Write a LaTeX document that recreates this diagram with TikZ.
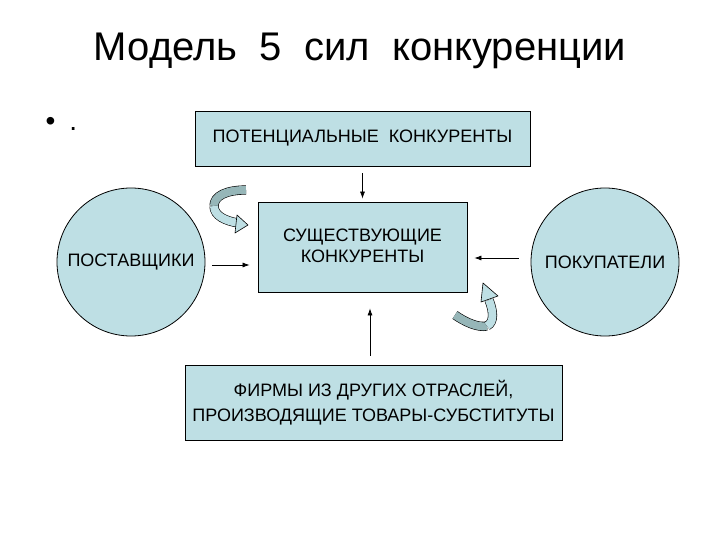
\documentclass[tikz,border=0pt]{standalone}
\usepackage{fontspec}
\setmainfont{Liberation Sans}
\usetikzlibrary{arrows.meta}
\definecolor{paleblue}{RGB}{190,223,228}
\definecolor{darkteal}{RGB}{150,182,184}

\begin{document}
\begin{tikzpicture}[x=1pt, y=-1pt,
    box/.style={draw, fill=paleblue, line width=0.8pt, inner sep=0pt, align=center, font=\fontsize{18}{25}\selectfont},
    firm/.style={draw, circle, fill=paleblue, line width=0.8pt, minimum size=148pt, inner sep=0pt, font=\fontsize{18}{25}\selectfont},
    arr/.style={-{Latex[length=7pt,width=5pt]}, line width=0.7pt},
    band/.style={draw=black, line width=0.6pt, double distance=8pt},
    head/.style={draw=black, line width=0.6pt, fill=paleblue, line join=round}
]
\useasboundingbox (0,0) rectangle (720,540);
\node[font=\fontsize{40}{48}\selectfont] (title) at (360,51) {Модель\ \ 5\ \ сил\ \ конкуренции};
\node[anchor=base west, font=\fontsize{28}{34}\selectfont] (bullet) at (42,131) {•\hspace{14pt}.};

\node[box, minimum width=335, minimum height=55] (pot) at (362.5,138.5) {ПОТЕНЦИАЛЬНЫЕ\ \ КОНКУРЕНТЫ};
\node[box, minimum width=209, minimum height=90] (cur) at (362.5,247) {};
\node[align=center, font=\fontsize{18}{21}\selectfont] (curtext) at (362.5,246) {СУЩЕСТВУЮЩИЕ\\КОНКУРЕНТЫ};
\node[box, minimum width=377, minimum height=75] (sub) at (373.5,402.5) {ФИРМЫ ИЗ ДРУГИХ ОТРАСЛЕЙ,\\ПРОИЗВОДЯЩИЕ ТОВАРЫ-СУБСТИТУТЫ};
\node[firm] (sup) at (131,262) {ПОСТАВЩИКИ};
\node[firm] (buy) at (605,262) {ПОКУПАТЕЛИ};

\coordinate (la) at ([xshift=7pt,yshift=-3pt]sup.east);
\coordinate (ra) at ([xshift=-12pt,yshift=4pt]buy.west);
\coordinate (ua) at ([xshift=-3.5pt,yshift=9pt]sub.north);
\draw[arr, shorten <=7pt, shorten >=3pt] (pot.south) -- (cur.north);
\draw[arr, shorten >=8pt] (la) -- (la -| cur.west);
\draw[arr, shorten >=7pt] (ra) -- (ra -| cur.east);
\draw[arr, shorten >=16pt] (ua) -- (ua |- cur.south);

\draw[band, double=darkteal] (246,190) .. controls (226,190) and (214,196) .. (214,206);
\draw[band, double=paleblue] (214,206) .. controls (214,216) and (226,221) .. (238,223);
\draw[head] (237,215) -- (248,225) -- (235,233) -- cycle;

\draw[band, double=darkteal] (455,315) .. controls (465,322) and (478,328) .. (487,326);
\draw[band, double=paleblue] (487,326) .. controls (495,322) and (493,310) .. (489,300);
\draw[head] (481,302) -- (483,283) -- (498,296) -- cycle;
\end{tikzpicture}
\end{document}
